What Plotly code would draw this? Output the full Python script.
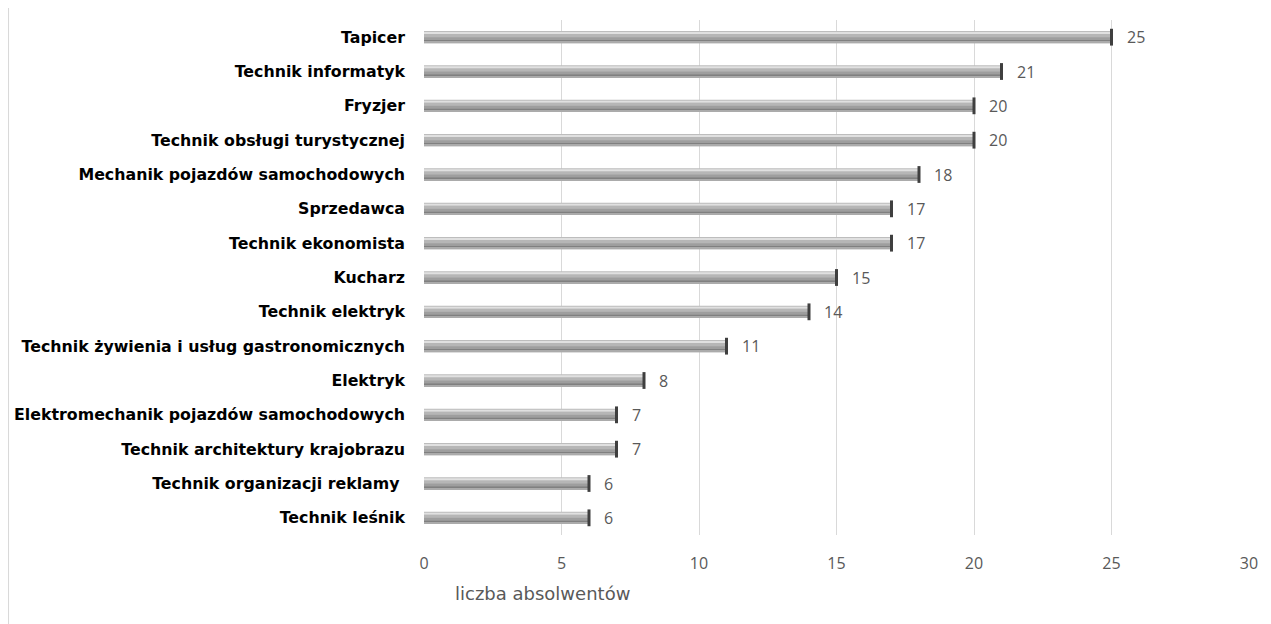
import plotly.graph_objects as go

categories = [
    "Tapicer",
    "Technik informatyk",
    "Fryzjer",
    "Technik obsługi turystycznej",
    "Mechanik pojazdów samochodowych",
    "Sprzedawca",
    "Technik ekonomista",
    "Kucharz",
    "Technik elektryk",
    "Technik żywienia i usług gastronomicznych",
    "Elektryk",
    "Elektromechanik pojazdów samochodowych",
    "Technik architektury krajobrazu",
    "Technik organizacji reklamy ",
    "Technik leśnik",
]
values = [25, 21, 20, 20, 18, 17, 17, 15, 14, 11, 8, 7, 7, 6, 6]
x_ticks = [0, 5, 10, 15, 20, 25, 30]
axis_title = "liczba absolwentów"

fig = go.Figure()

# cylinder-like shading made of stacked stripes (offset, width, colour)
stripes = [
    (-0.18, 0.36, "#bdbdbd"),
    (-0.15, 0.06, "#e0e0e0"),
    (-0.09, 0.09, "#b6b6b6"),
    (0.00, 0.08, "#9e9e9e"),
    (0.08, 0.06, "#808080"),
    (0.14, 0.04, "#ababab"),
]
for off, w, col in stripes:
    fig.add_trace(go.Bar(
        x=values, y=categories, orientation="h",
        offset=off, width=w,
        marker=dict(color=col, line=dict(width=0)),
        hoverinfo="skip", showlegend=False,
    ))

# dark end caps at the bar tips
fig.add_trace(go.Scatter(
    x=values, y=categories, mode="markers",
    marker=dict(symbol="line-ns", size=12, line=dict(width=3, color="#3f3f3f")),
    hoverinfo="skip", showlegend=False, cliponaxis=False,
))

for v, c in zip(values, categories):
    fig.add_annotation(
        x=v, y=c, text=str(v), showarrow=False,
        xanchor="left", xshift=13,
        font=dict(family="Open Sans", size=16, color="#595959"),
    )

fig.add_annotation(
    xref="paper", yref="paper", x=0.035, y=-0.113,
    text=axis_title, showarrow=False, xanchor="left", yanchor="middle",
    font=dict(family="DejaVu Sans", size=18, color="#595959"),
)

fig.add_shape(
    type="line", xref="paper", yref="paper",
    x0=-0.5042, x1=-0.5042, y0=-0.3, y1=1.1,
    line=dict(color="#d9d9d9", width=2),
)

fig.update_layout(
    width=1263, height=616,
    margin=dict(l=416, r=22, t=12, b=89, autoexpand=False),
    barmode="overlay",
    plot_bgcolor="white", paper_bgcolor="white",
    xaxis=dict(
        range=[0, 30], tickvals=x_ticks, showgrid=True,
        gridcolor="#d9d9d9", gridwidth=1, zeroline=False,
        tickfont=dict(family="Open Sans", size=16, color="#595959"),
        ticks="", showline=False, ticklabelstandoff=17, automargin=False,
    ),
    yaxis=dict(
        range=[14.5, -0.5], categoryorder="array", categoryarray=categories,
        tickfont=dict(family="DejaVu Sans", size=15.8, color="#000000", weight="bold"),
        ticks="", showline=False, showgrid=False, ticklabelstandoff=18,
        automargin=False,
    ),
)

fig.write_html("out.html")
